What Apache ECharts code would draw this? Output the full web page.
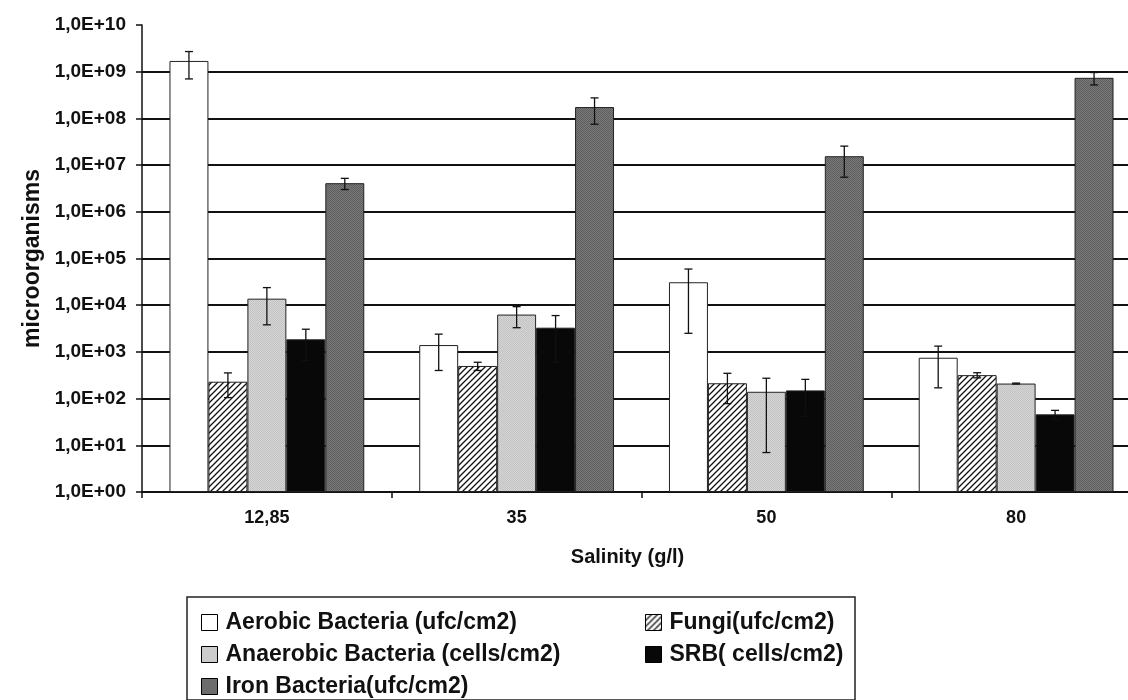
<!DOCTYPE html>
<html>
<head>
<meta charset="utf-8">
<script src="https://cdn.jsdelivr.net/npm/echarts@6/dist/echarts.min.js"></script>
<style>
html,body{margin:0;padding:0;background:#fff;}
#chart{width:1128px;height:700px;}
</style>
</head>
<body>
<div id="chart"></div>
<script>
// ---- data ----
var categories = ['12,85', '35', '50', '80'];
var seriesNames = ['Aerobic Bacteria (ufc/cm2)', 'Fungi(ufc/cm2)', 'Anaerobic Bacteria (cells/cm2)', 'SRB( cells/cm2)', 'Iron Bacteria(ufc/cm2)'];
var aerobic = [1.7e9, 1400, 31000, 750];
var aerobicErr = [1.0e9, 1000, 28500, 580];
var fungi = [230, 500, 213, 318];
var fungiErr = [125, 100, 135, 40];
var anaerobic = [13800, 6300, 140, 210];
var anaerobicErr = [10000, 3000, 133, 5];
var srb = [1860, 3300, 150, 46];
var srbErr = [1200, 2700, 108, 10];
var iron = [4.1e6, 1.75e8, 1.55e7, 7.4e8];
var ironErr = [1.1e6, 1.0e8, 1.0e7, 2.2e8];
var yTickExponents = ['00','01','02','03','04','05','06','07','08','09','10'];

var values = [aerobic, fungi, anaerobic, srb, iron];
var errors = [aerobicErr, fungiErr, anaerobicErr, srbErr, ironErr];

// ---- patterns ----
function makeCanvas(w, h) { var c = document.createElement('canvas'); c.width = w; c.height = h; return c; }
function hatch() {
  var c = makeCanvas(6, 6), g = c.getContext('2d');
  g.fillStyle = '#fff'; g.fillRect(0, 0, 6, 6);
  g.strokeStyle = '#111'; g.lineWidth = 1.3;
  g.beginPath();
  g.moveTo(0, 6); g.lineTo(6, 0);
  g.moveTo(-1, 1); g.lineTo(1, -1);
  g.moveTo(5, 7); g.lineTo(7, 5);
  g.stroke();
  return c;
}
function speckle(a, b) {
  var c = makeCanvas(2, 2), g = c.getContext('2d');
  g.fillStyle = a; g.fillRect(0, 0, 2, 2);
  g.fillStyle = b; g.fillRect(0, 0, 1, 1); g.fillRect(1, 1, 1, 1);
  return c;
}
var fills = [
  '#ffffff',
  { image: hatch(), repeat: 'repeat' },
  { image: speckle('#d6d6d6', '#c2c2c2'), repeat: 'repeat' },
  '#080808',
  { image: speckle('#7a7a7a', '#5e5e5e'), repeat: 'repeat' }
];

var FONT = '"Liberation Sans", Arial, sans-serif';
var CAT_GAP = 0.22;

function errRenderer(si) {
  return function (params, api) {
    var ci = api.value(0), v = api.value(1), e = api.value(2);
    var catW = api.size([1, 1])[0];
    var bw = catW * (1 - CAT_GAP) / 5;
    var xoff = (si - 2) * bw;
    var hi = api.coord([ci, v + e]);
    var loV = v - e > 1 ? v - e : 1;
    var lo = api.coord([ci, loV]);
    var x = hi[0] + xoff;
    var cap = 4;
    var st = { stroke: '#111', lineWidth: 1.3 };
    return {
      type: 'group',
      children: [
        { type: 'line', shape: { x1: x, y1: hi[1], x2: x, y2: lo[1] }, style: st },
        { type: 'line', shape: { x1: x - cap, y1: hi[1], x2: x + cap, y2: hi[1] }, style: st },
        { type: 'line', shape: { x1: x - cap, y1: lo[1], x2: x + cap, y2: lo[1] }, style: st }
      ]
    };
  };
}

var series = [];
for (var i = 0; i < 5; i++) {
  series.push({
    name: seriesNames[i],
    type: 'bar',
    data: values[i],
    barGap: '0%',
    barCategoryGap: (CAT_GAP * 100) + '%',
    itemStyle: { color: fills[i], borderColor: '#222', borderWidth: 1 },
    emphasis: { disabled: true },
    z: 2
  });
}
for (var j = 0; j < 5; j++) {
  var d = [];
  for (var k = 0; k < categories.length; k++) d.push([k, values[j][k], errors[j][k]]);
  series.push({
    type: 'custom',
    renderItem: errRenderer(j),
    data: d,
    encode: { x: 0, y: 1 },
    z: 5,
    silent: true
  });
}

var legendPos = [
  { left: 201, top: 611 },
  { left: 645, top: 611 },
  { left: 201, top: 643 },
  { left: 645, top: 643 },
  { left: 201, top: 675 }
];
var legends = legendPos.map(function (p, i) {
  return {
    data: [seriesNames[i]],
    left: p.left, top: p.top,
    padding: 0,
    itemWidth: 16, itemHeight: 16,
    itemGap: 0,
    icon: 'rect',
    itemStyle: { borderColor: '#000', borderWidth: 1 },
    selectedMode: false,
    textStyle: { fontFamily: FONT, fontSize: 23, fontWeight: 'bold', color: '#111', padding: [0, 0, 0, 3] }
  };
});

var chart = echarts.init(document.getElementById('chart'), null, { renderer: 'canvas' });
chart.setOption({
  backgroundColor: '#fff',
  animation: false,
  grid: { left: 142, top: 25, width: 999, height: 467, containLabel: false, outerBoundsMode: 'none' },
  legend: legends,
  graphic: [{
    type: 'rect',
    shape: { x: 187, y: 597, width: 668, height: 103 },
    style: { fill: 'none', stroke: '#222', lineWidth: 1.5 },
    z: 0
  }],
  xAxis: {
    type: 'category',
    data: categories,
    name: 'Salinity (g/l)',
    nameLocation: 'middle',
    nameGap: 55,
    nameTextStyle: { fontFamily: FONT, fontSize: 20, fontWeight: 'bold', color: '#111', padding: [0, 28, 0, 0] },
    axisLine: { lineStyle: { color: '#111', width: 2 } },
    axisTick: { show: true, alignWithLabel: false, length: 6, lineStyle: { color: '#111', width: 1.5 } },
    axisLabel: { fontFamily: FONT, fontSize: 18, fontWeight: 'bold', color: '#111', margin: 17 },
    splitLine: { show: false }
  },
  yAxis: {
    type: 'log',
    logBase: 10,
    min: 1,
    max: 1e10,
    interval: 1,
    name: 'microorganisms',
    nameLocation: 'middle',
    nameGap: 98,
    nameTextStyle: { fontFamily: FONT, fontSize: 23, fontWeight: 'bold', color: '#111' },
    axisLine: { show: true, lineStyle: { color: '#111', width: 1.5 } },
    axisTick: { show: true, inside: false, length: 6, lineStyle: { color: '#111', width: 1.5 } },
    axisLabel: {
      fontFamily: FONT, fontSize: 19, fontWeight: 'bold', color: '#111', margin: 16,
      formatter: function (v) {
        var e = Math.round(Math.log(v) / Math.LN10);
        return '1,0E+' + yTickExponents[e];
      }
    },
    splitLine: { show: true, showMaxLine: false, lineStyle: { color: '#111', width: 2 } }
  },
  series: series
});
</script>
</body>
</html>
